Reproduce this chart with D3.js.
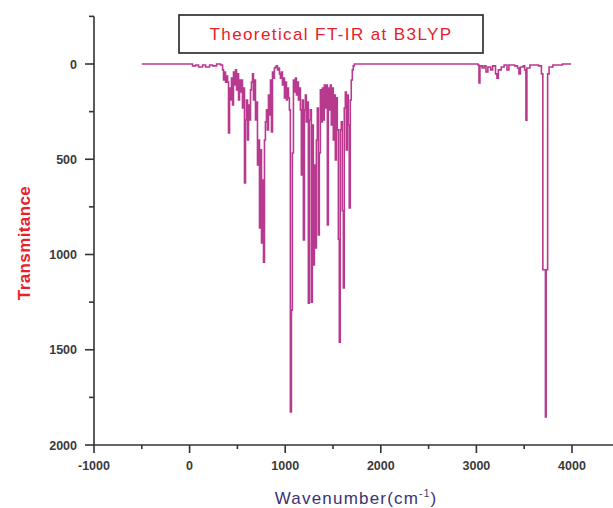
<!DOCTYPE html>
<html>
<head>
<meta charset="utf-8">
<script src="https://cdn.jsdelivr.net/npm/d3@7"></script>
<style>
  body { margin: 0; background: #fff; }
  svg { display: block; font-family: "Liberation Sans", Arial, sans-serif; }
</style>
</head>
<body>
<div id="chart"></div>
<script>
// spectrum points
const wavenumber = [
  -500, 10, 31, 63, 94, 136, 167, 209, 240, 282, 324, 345, 355, 365, 376, 386, 397, 407, 418, 428,
  438, 449, 459, 470, 480, 491, 501, 512, 522, 532, 543, 553, 564, 574, 585, 595, 606, 616, 626, 637,
  647, 658, 668, 679, 689, 699, 710, 720, 731, 741, 752, 762, 773, 783, 793, 804, 814, 825, 835, 846,
  856, 867, 877, 887, 898, 908, 919, 929, 940, 950, 960, 971, 981, 992, 1002, 1013, 1023, 1034, 1044, 1054,
  1065, 1075, 1086, 1096, 1107, 1117, 1128, 1138, 1148, 1159, 1169, 1180, 1190, 1201, 1211, 1221, 1232, 1242, 1253, 1263,
  1274, 1284, 1294, 1305, 1315, 1326, 1336, 1347, 1357, 1368, 1378, 1389, 1399, 1409, 1420, 1430, 1441, 1451, 1462, 1472,
  1482, 1493, 1503, 1514, 1524, 1535, 1545, 1556, 1566, 1576, 1587, 1597, 1608, 1618, 1629, 1639, 1650, 1660, 1670, 1681,
  1691, 1702, 1712, 1723,
  3000, 3017, 3027, 3037, 3060, 3080, 3100, 3120, 3150, 3170, 3200, 3215, 3230, 3260, 3290, 3320, 3340, 3400, 3430, 3445,
  3460, 3490, 3505, 3518, 3528, 3560, 3650, 3680, 3695, 3722, 3730, 3745, 3760, 3800, 3900, 3990
];
const transmitance = [
  0, 0, 10, 5, 16, 5, 16, 5, 10, 0, 5, 31, 84, 42, 95, 63, 95, 362, 126, 189,
  74, 215, 42, 110, 31, 136, 52, 189, 84, 147, 84, 231, 126, 625, 294, 189, 399, 215, 294, 136,
  95, 52, 189, 84, 294, 200, 530, 399, 861, 451, 940, 609, 1040, 399, 304, 241, 346, 163, 268, 84,
  357, 42, 74, 21, 16, 10, 31, 21, 52, 74, 42, 110, 74, 178, 95, 189, 126, 178, 241, 1827,
  1292, 467, 84, 147, 74, 163, 95, 189, 126, 241, 583, 189, 924, 241, 163, 304, 200, 1255, 294, 241,
  1250, 320, 1055, 531, 966, 399, 231, 898, 467, 136, 304, 126, 294, 110, 231, 110, 845, 126, 241, 110,
  320, 126, 399, 163, 504, 178, 346, 920, 1460, 346, 304, 770, 1176, 231, 147, 451, 163, 320, 756, 189,
  84, 31, 10, 0,
  0, 5, 100, 10, 21, 10, 42, 16, 31, 10, 52, 74, 31, 16, 5, 31, 5, 10, 21, 52,
  16, 10, 31, 295, 21, 5, 10, 52, 1080, 1853, 1080, 52, 16, 5, 0, 0
];
const xTicks = [-1000, 0, 1000, 2000, 3000, 4000];
const yTicks = [0, 500, 1000, 1500, 2000];

const width = 613, height = 508;
const svg = d3.select('#chart').append('svg')
    .attr('width', width)
    .attr('height', height);

const x = d3.scaleLinear().domain([-1000, 4000]).range([94, 572]);
const y = d3.scaleLinear().domain([0, 2000]).range([64, 445]);

// axes
const axisColor = '#333';
const xAxis = svg.append('g').attr('transform', `translate(0, ${y(2000)})`);
xAxis.append('line')
    .attr('x1', x(-1000)).attr('x2', width)
    .attr('stroke', axisColor).attr('stroke-width', 1.6);
xAxis.selectAll('.minor')
    .data(d3.range(-500, 4500, 1000))
    .enter().append('line')
    .attr('x1', d => x(d)).attr('x2', d => x(d))
    .attr('y1', 0).attr('y2', 4)
    .attr('stroke', axisColor).attr('stroke-width', 1.6);
xAxis.selectAll('.major')
    .data(xTicks)
    .enter().append('line')
    .attr('x1', d => x(d)).attr('x2', d => x(d))
    .attr('y1', 0).attr('y2', 8)
    .attr('stroke', axisColor).attr('stroke-width', 1.6);
xAxis.selectAll('text')
    .data(xTicks)
    .enter().append('text')
    .attr('x', d => x(d))
    .attr('y', 25)
    .attr('text-anchor', 'middle')
    .attr('font-size', 12.5)
    .attr('font-weight', 'bold')
    .attr('fill', '#3a3a3a')
    .text(d => d);

const yAxis = svg.append('g').attr('transform', `translate(${x(-1000)}, 0)`);
yAxis.append('line')
    .attr('y1', y(-250)).attr('y2', y(2000))
    .attr('stroke', axisColor).attr('stroke-width', 1.6);
yAxis.selectAll('.minor')
    .data(d3.range(-250, 2000, 500))
    .enter().append('line')
    .attr('x1', -5).attr('x2', 0)
    .attr('y1', d => y(d)).attr('y2', d => y(d))
    .attr('stroke', axisColor).attr('stroke-width', 1.6);
yAxis.selectAll('.major')
    .data(yTicks)
    .enter().append('line')
    .attr('x1', -9).attr('x2', 0)
    .attr('y1', d => y(d)).attr('y2', d => y(d))
    .attr('stroke', axisColor).attr('stroke-width', 1.6);
yAxis.selectAll('text')
    .data(yTicks)
    .enter().append('text')
    .attr('x', -17)
    .attr('y', d => y(d) + 4.5)
    .attr('text-anchor', 'end')
    .attr('font-size', 12.5)
    .attr('font-weight', 'bold')
    .attr('fill', '#3a3a3a')
    .text(d => d);

// spectrum
const points = wavenumber.map((w, i) => [w, transmitance[i]]);
const line = d3.line()
    .x(d => x(d[0]))
    .y(d => y(d[1]))
    .curve(d3.curveStepAfter);
svg.append('path')
    .datum(points)
    .attr('d', line)
    .attr('fill', 'none')
    .attr('stroke', '#b83a8e')
    .attr('stroke-width', 1.6);

// title box
svg.append('rect')
    .attr('x', 179).attr('y', 15)
    .attr('width', 304).attr('height', 38)
    .attr('fill', 'white')
    .attr('stroke', '#222')
    .attr('stroke-width', 1.6);
svg.append('text')
    .attr('x', 331).attr('y', 40)
    .attr('text-anchor', 'middle')
    .attr('font-size', 17)
    .attr('letter-spacing', 1.4)
    .attr('fill', '#e8202a')
    .text('Theoretical FT-IR at B3LYP');

// axis titles
svg.append('text')
    .attr('transform', 'translate(30, 243) rotate(-90)')
    .attr('text-anchor', 'middle')
    .attr('font-size', 17)
    .attr('font-weight', 'bold')
    .attr('letter-spacing', 0.4)
    .attr('fill', '#e8202a')
    .text('Transmitance');

const xt = svg.append('text')
    .attr('x', 356).attr('y', 504)
    .attr('text-anchor', 'middle')
    .attr('font-size', 17)
    .attr('letter-spacing', 1.2)
    .attr('fill', '#3b3272');
xt.append('tspan').text('Wavenumber(cm');
xt.append('tspan').attr('dy', -7).attr('font-size', 10).text('-1');
xt.append('tspan').attr('dy', 7).text(')');
</script>
</body>
</html>
